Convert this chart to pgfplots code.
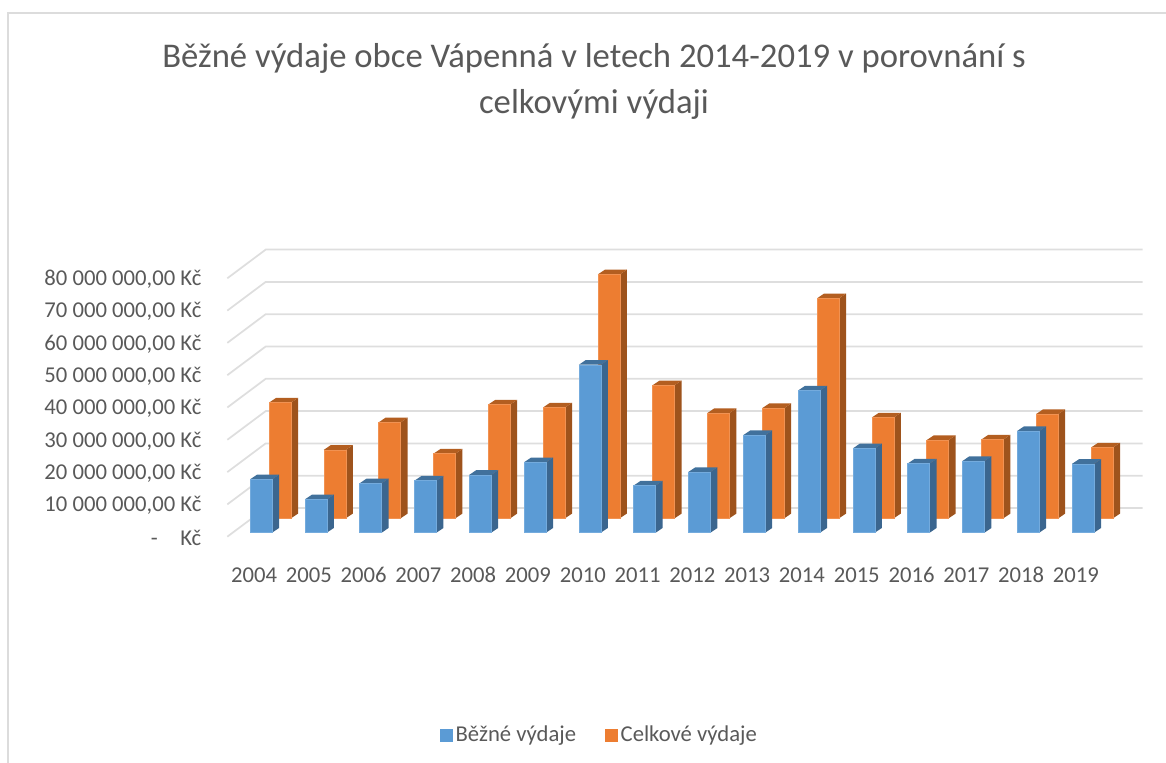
\documentclass[border=0pt]{standalone}
\usepackage{fontspec}
\setmainfont{Carlito}
\usepackage{pgfplots}
\usepackage{pgfplotstable}
\pgfplotsset{compat=1.18}
\definecolor{bluef}{HTML}{5B9BD5}
\definecolor{blues}{HTML}{3B668F}
\definecolor{bluet}{HTML}{41719C}
\definecolor{blueedge}{HTML}{74ABDD}
\definecolor{orangef}{HTML}{ED7D31}
\definecolor{oranges}{HTML}{9E531C}
\definecolor{oranget}{HTML}{B35E20}
\definecolor{orangeedge}{HTML}{F19252}
\definecolor{gridc}{HTML}{DEDEDE}
\definecolor{framec}{HTML}{DCDCDC}
\definecolor{textc}{HTML}{595959}
% values in millions of Kc
\pgfplotstableread{
year value
2004 16.5
2005 10.3
2006 15.3
2007 16.1
2008 17.9
2009 21.8
2010 52.0
2011 14.6
2012 18.8
2013 30.2
2014 44.0
2015 26.1
2016 21.4
2017 22.2
2018 31.5
2019 21.3
}\bezne
\pgfplotstableread{
year value
2004 35.8
2005 21.2
2006 29.7
2007 20.0
2008 35.2
2009 34.3
2010 75.5
2011 41.2
2012 32.6
2013 34.1
2014 68.1
2015 31.2
2016 24.2
2017 24.4
2018 32.3
2019 21.9
}\celkove
% #1 table, #2 x offset, #3 base, #4 front, #5 side, #6 top, #7 edge
\newcommand{\series}[7]{%
  \pgfplotsinvokeforeach{0,...,15}{%
    \pgfplotstablegetelem{##1}{year}\of{#1}\let\yr\pgfplotsretval
    \pgfplotstablegetelem{##1}{value}\of{#1}\let\val\pgfplotsretval
    \pgfmathsetmacro\xa{\yr+#2}%
    \pgfmathsetmacro\xb{\xa+0.4015}%
    \pgfmathsetmacro\xc{\xb+0.1277}%
    \pgfmathsetmacro\xd{\xa+0.1277}%
    \pgfmathsetmacro\ya{#3}%
    \pgfmathsetmacro\yb{#3+1.455}%
    \pgfmathsetmacro\yt{#3+\val}%
    \pgfmathsetmacro\yu{\yt+1.455}%
    \edef\tmp{%
      \noexpand\addplot[forget plot,fill=#5,draw=none] coordinates {(\xb,\ya)(\xc,\yb)(\xc,\yu)(\xb,\yt)} -- cycle;
      \noexpand\addplot[forget plot,fill=#6,draw=none] coordinates {(\xa,\yt)(\xd,\yu)(\xc,\yu)(\xb,\yt)} -- cycle;
      \noexpand\addplot[forget plot,fill=#4,draw=#7,line width=0.3pt] coordinates {(\xa,\ya)(\xb,\ya)(\xb,\yt)(\xa,\yt)} -- cycle;
    }\tmp
  }%
}
\newcommand{\gline}[2]{\addplot[forget plot,gridc,line width=1.3pt] coordinates {(2003.513,#1)(2004.2135,#2)(2020.217,#2)};}
\begin{document}
\begin{tikzpicture}[x=1pt,y=1pt]
\path[use as bounding box] (0,0) rectangle (874.5pt,572.25pt);
\draw[framec,line width=1.3pt] (6pt,0) -- (6pt,562.5pt) -- (874.5pt,562.5pt);
\begin{axis}[
  at={(153pt,150.75pt)},anchor=south west,
  scale only axis,width=706.5pt,height=237.75pt,
  xmin=2003.0876,xmax=2020.2774,ymin=-9.071,ymax=89.07,
  axis line style={draw=none},major tick length=0pt,tick style={draw=none},
  xtick={2004,...,2019},
  xticklabels={2004,2005,2006,2007,2008,2009,2010,2011,2012,2013,2014,2015,2016,2017,2018,2019},
  ytick={0,10,...,80},
  yticklabels={{-\hspace{1em}Kč},{10 000 000,00 Kč},{20 000 000,00 Kč},{30 000 000,00 Kč},{40 000 000,00 Kč},{50 000 000,00 Kč},{60 000 000,00 Kč},{70 000 000,00 Kč},{80 000 000,00 Kč}},
  tick label style={font=\fontsize{17}{20}\selectfont,text=textc},
  yticklabel style={anchor=east,xshift=1.5pt,yshift=-3.75pt},
  xticklabel style={anchor=north,yshift=-2.5pt,text height=9pt,text depth=0pt},
  title={Běžné výdaje obce Vápenná v letech 2014-2019 v porovnání s\\celkovými výdaji},
  title style={at={(0.414,1.4905)},anchor=center,align=center,text=textc,font=\fontsize{26}{34.5}\selectfont},
  legend style={at={(0.4204,-0.5457)},anchor=center,draw=none,fill=none,font=\fontsize{17}{20}\selectfont,text=textc,legend columns=2,/tikz/every even column/.append style={column sep=20pt}},
]
\gline{-1.238}{7.647}
\gline{8.762}{17.647}
\gline{18.762}{27.647}
\gline{28.762}{37.647}
\gline{38.762}{47.647}
\gline{48.762}{57.647}
\gline{58.762}{67.647}
\gline{68.762}{77.647}
\gline{78.762}{87.647}
\series{\celkove}{0.2737}{4.458}{orangef}{oranges}{oranget}{orangeedge}
\series{\bezne}{-0.073}{0}{bluef}{blues}{bluet}{blueedge}
\addlegendimage{legend image code/.code={\fill[bluef] (10pt,-4.5pt) rectangle (19pt,4.5pt);}}
\addlegendentry{Běžné výdaje}
\addlegendimage{legend image code/.code={\fill[orangef] (10pt,-4.5pt) rectangle (19pt,4.5pt);}}
\addlegendentry{Celkové výdaje}
\end{axis}
\end{tikzpicture}
\end{document}
